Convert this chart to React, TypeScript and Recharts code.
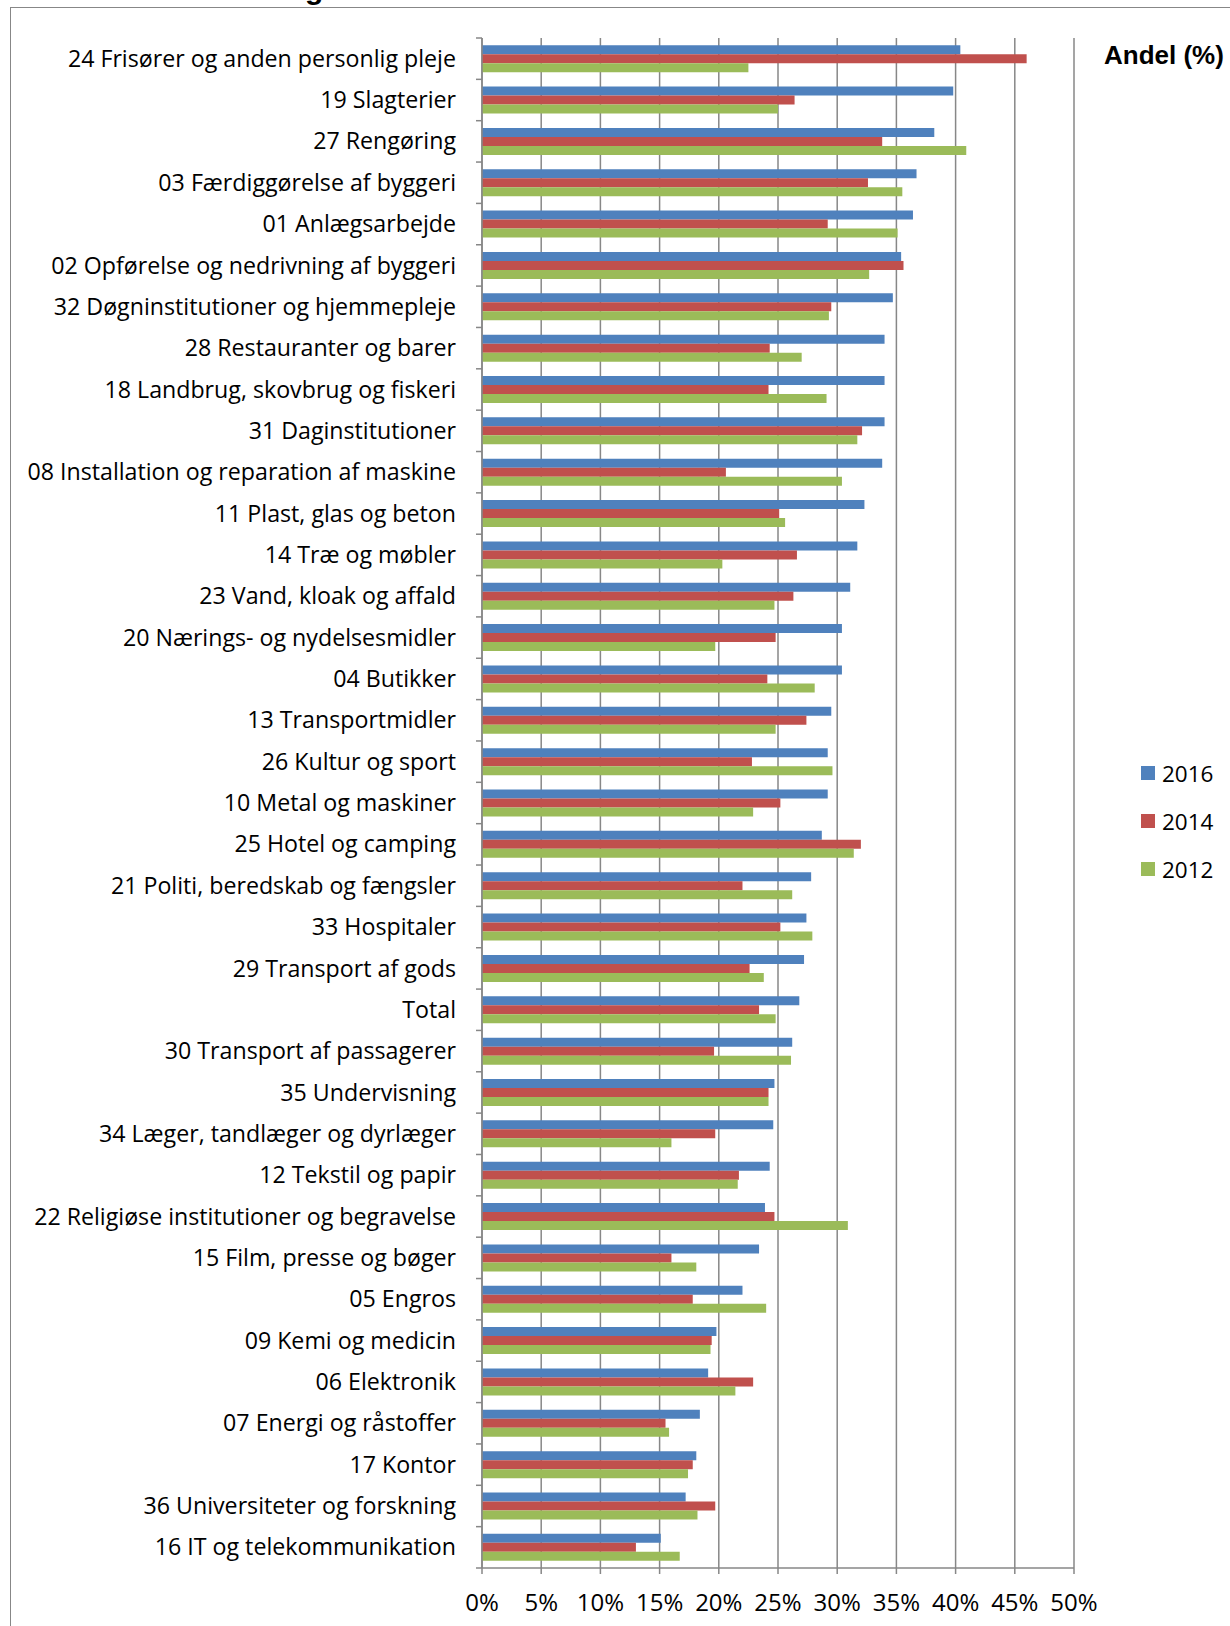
import { BarChart, Bar, XAxis, YAxis, CartesianGrid, Legend } from "recharts";

const categories = [
  "24 Frisører og anden personlig pleje",
  "19 Slagterier",
  "27 Rengøring",
  "03 Færdiggørelse af byggeri",
  "01 Anlægsarbejde",
  "02 Opførelse og nedrivning af byggeri",
  "32 Døgninstitutioner og hjemmepleje",
  "28 Restauranter og barer",
  "18 Landbrug, skovbrug og fiskeri",
  "31 Daginstitutioner",
  "08 Installation og reparation af maskine",
  "11 Plast, glas og beton",
  "14 Træ og møbler",
  "23 Vand, kloak og affald",
  "20 Nærings- og nydelsesmidler",
  "04 Butikker",
  "13 Transportmidler",
  "26 Kultur og sport",
  "10 Metal og maskiner",
  "25 Hotel og camping",
  "21 Politi, beredskab og fængsler",
  "33 Hospitaler",
  "29 Transport af gods",
  "Total",
  "30 Transport af passagerer",
  "35 Undervisning",
  "34 Læger, tandlæger og dyrlæger",
  "12 Tekstil og papir",
  "22 Religiøse institutioner og begravelse",
  "15 Film, presse og bøger",
  "05 Engros",
  "09 Kemi og medicin",
  "06 Elektronik",
  "07 Energi og råstoffer",
  "17 Kontor",
  "36 Universiteter og forskning",
  "16 IT og telekommunikation",
];

const y2016 = [
  40.4, 39.8, 38.2, 36.7, 36.4, 35.4, 34.7, 34.0, 34.0, 34.0, 33.8, 32.3, 31.7,
  31.1, 30.4, 30.4, 29.5, 29.2, 29.2, 28.7, 27.8, 27.4, 27.2, 26.8, 26.2, 24.7,
  24.6, 24.3, 23.9, 23.4, 22.0, 19.8, 19.1, 18.4, 18.1, 17.2, 15.1,
];
const y2014 = [
  46.0, 26.4, 33.8, 32.6, 29.2, 35.6, 29.5, 24.3, 24.2, 32.1, 20.6, 25.1, 26.6,
  26.3, 24.8, 24.1, 27.4, 22.8, 25.2, 32.0, 22.0, 25.2, 22.6, 23.4, 19.6, 24.2,
  19.7, 21.7, 24.7, 16.0, 17.8, 19.4, 22.9, 15.5, 17.8, 19.7, 13.0,
];
const y2012 = [
  22.5, 25.0, 40.9, 35.5, 35.1, 32.7, 29.3, 27.0, 29.1, 31.7, 30.4, 25.6, 20.3,
  24.7, 19.7, 28.1, 24.8, 29.6, 22.9, 31.4, 26.2, 27.9, 23.8, 24.8, 26.1, 24.2,
  16.0, 21.6, 30.9, 18.1, 24.0, 19.3, 21.4, 15.8, 17.4, 18.2, 16.7,
];
const xTicks = [0, 5, 10, 15, 20, 25, 30, 35, 40, 45, 50];

const data = categories.map((name, i) => ({
  name,
  v2016: y2016[i],
  v2014: y2014[i],
  v2012: y2012[i],
}));

const GRID = "#878787";
const FONT = "'Open Sans', sans-serif";
const BOLD_FONT = "'Liberation Sans', Arial, sans-serif";
const TICK_SIZE = 6;
const TICK_MARGIN = 20;
const LEGEND_W = 90;

// category labels with Excel-style tick marks between the categories
function CatTick(props: any) {
  const { x, y, payload, index } = props;
  const half = payload?.offset ?? 20.7;
  const ax = x + TICK_SIZE + TICK_MARGIN;
  return (
    <g>
      <line x1={ax - TICK_SIZE} x2={ax} y1={y - half} y2={y - half} stroke={GRID} strokeWidth={1.5} />
      {index === categories.length - 1 && (
        <line x1={ax - TICK_SIZE} x2={ax} y1={y + half} y2={y + half} stroke={GRID} strokeWidth={1.5} />
      )}
      <text x={x} y={y} dy="0.35em" textAnchor="end" fill="#000" fontSize={23.2} fontFamily={FONT}>
        {payload.value}
      </text>
    </g>
  );
}

// vertical layout hands the legend items over bottom-up; show 2016 first like the original
function LegendBox({ payload }: any) {
  const items = [...(payload || [])].sort((a: any, b: any) => Number(b.value) - Number(a.value));
  return (
    <div style={{ paddingLeft: 10 }}>
      {items.map((p: any) => (
        <div
          key={p.value}
          style={{ display: "flex", alignItems: "center", height: 48, fontSize: 22.5, fontFamily: FONT, color: "#000" }}
        >
          <span style={{ width: 14, height: 14, background: p.color, marginRight: 7, display: "inline-block" }} />
          {p.value}
        </div>
      ))}
    </div>
  );
}

export default function App() {
  return (
    <div
      style={{
        position: "absolute",
        left: 0,
        top: 0,
        width: 1230,
        height: 1626,
        overflow: "hidden",
        background: "#fff",
        fontFamily: FONT,
      }}
    >
      <div
        style={{
          position: "absolute",
          left: 10,
          top: 7,
          width: 1400,
          height: 1800,
          border: `1.5px solid ${GRID}`,
        }}
      />
      <div
        style={{
          position: "absolute",
          left: 305,
          top: -26,
          fontSize: 30,
          lineHeight: "30px",
          fontWeight: 700,
          fontFamily: BOLD_FONT,
          color: "#000",
        }}
      >
        g
      </div>
      <div
        style={{
          position: "absolute",
          left: 1104,
          top: 42,
          fontSize: 26,
          lineHeight: "26px",
          fontWeight: 700,
          fontFamily: BOLD_FONT,
          color: "#000",
          whiteSpace: "nowrap",
        }}
      >
        Andel (%)
      </div>
      <div style={{ position: "absolute", left: 0, top: 0 }}>
        <BarChart
          width={1230}
          height={1626}
          data={data}
          layout="vertical"
          margin={{ top: 38, right: 156 - LEGEND_W, left: 0, bottom: 18 }}
          barCategoryGap="17.4%"
          barGap={0}
        >
          <CartesianGrid horizontal={false} stroke={GRID} strokeWidth={1.5} />
          <XAxis
            type="number"
            domain={[0, 50]}
            ticks={xTicks}
            interval={0}
            tickFormatter={(v: number) => `${v}%`}
            tick={{ fontSize: 24, fill: "#000", fontFamily: FONT }}
            tickSize={TICK_SIZE}
            tickMargin={20}
            stroke={GRID}
            axisLine={{ stroke: GRID, strokeWidth: 1.5 }}
            tickLine={{ stroke: GRID, strokeWidth: 1.5 }}
            height={40}
          />
          <YAxis
            type="category"
            dataKey="name"
            width={482}
            interval={0}
            tick={<CatTick />}
            tickLine={false}
            tickSize={TICK_SIZE}
            tickMargin={TICK_MARGIN}
            axisLine={{ stroke: GRID, strokeWidth: 1.5 }}
          />
          <Legend
            layout="vertical"
            align="right"
            verticalAlign="middle"
            content={<LegendBox />}
            wrapperStyle={{ left: 1131, top: 749, width: LEGEND_W }}
          />
          <Bar dataKey="v2016" name="2016" fill="#4F81BD" isAnimationActive={false} />
          <Bar dataKey="v2014" name="2014" fill="#C0504D" isAnimationActive={false} />
          <Bar dataKey="v2012" name="2012" fill="#9BBB59" isAnimationActive={false} />
        </BarChart>
      </div>
    </div>
  );
}
